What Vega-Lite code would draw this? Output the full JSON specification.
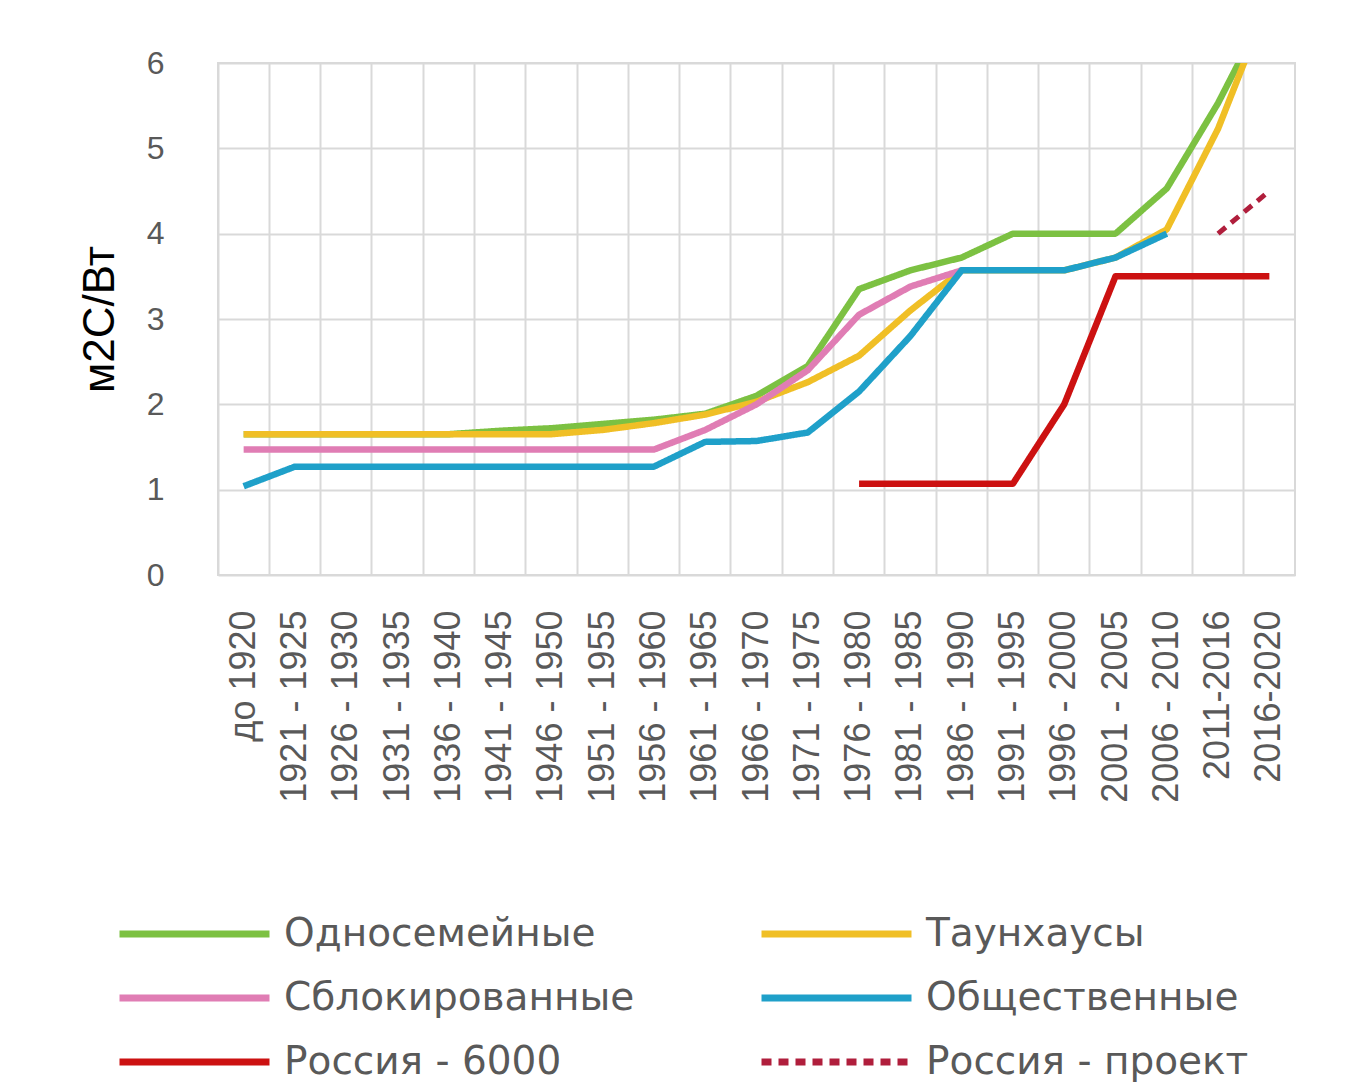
{
  "$schema": "https://vega.github.io/schema/vega-lite/v6.json",
  "autosize": "none",
  "width": 1077,
  "height": 512,
  "padding": {"left": 218, "top": 63, "right": 58, "bottom": 515},
  "background": "white",
  "config": {
    "view": {"stroke": "#d9d9d9", "strokeWidth": 2},
    "axis": {"gridColor": "#d9d9d9", "gridWidth": 2, "domain": false, "ticks": false, "labelColor": "#595959", "labelFont": "Liberation Sans"},
    "legend": {"symbolType": "M-1,0H3", "symbolSize": 5625, "symbolStrokeWidth": 7, "labelFont": "DejaVu Sans", "labelFontSize": 39, "labelColor": "#595959", "labelOffset": 86, "columnPadding": 112, "rowPadding": 3, "labelLimit": 600}
  },
  "data": {"values": [
    {"cat": "до 1920", "series": "Односемейные", "value": 1.65},
    {"cat": "1921 - 1925", "series": "Односемейные", "value": 1.65},
    {"cat": "1926 - 1930", "series": "Односемейные", "value": 1.65},
    {"cat": "1931 - 1935", "series": "Односемейные", "value": 1.65},
    {"cat": "1936 - 1940", "series": "Односемейные", "value": 1.65},
    {"cat": "1941 - 1945", "series": "Односемейные", "value": 1.69},
    {"cat": "1946 - 1950", "series": "Односемейные", "value": 1.72},
    {"cat": "1951 - 1955", "series": "Односемейные", "value": 1.77},
    {"cat": "1956 - 1960", "series": "Односемейные", "value": 1.82},
    {"cat": "1961 - 1965", "series": "Односемейные", "value": 1.89},
    {"cat": "1966 - 1970", "series": "Односемейные", "value": 2.1},
    {"cat": "1971 - 1975", "series": "Односемейные", "value": 2.45},
    {"cat": "1976 - 1980", "series": "Односемейные", "value": 3.35},
    {"cat": "1981 - 1985", "series": "Односемейные", "value": 3.57},
    {"cat": "1986 - 1990", "series": "Односемейные", "value": 3.72},
    {"cat": "1991 - 1995", "series": "Односемейные", "value": 4.0},
    {"cat": "1996 - 2000", "series": "Односемейные", "value": 4.0},
    {"cat": "2001 - 2005", "series": "Односемейные", "value": 4.0},
    {"cat": "2006 - 2010", "series": "Односемейные", "value": 4.53},
    {"cat": "2011-2016", "series": "Односемейные", "value": 5.53},
    {"cat": "2016-2020", "series": "Односемейные", "value": 6.7},

    {"cat": "до 1920", "series": "Таунхаусы", "value": 1.65},
    {"cat": "1921 - 1925", "series": "Таунхаусы", "value": 1.65},
    {"cat": "1926 - 1930", "series": "Таунхаусы", "value": 1.65},
    {"cat": "1931 - 1935", "series": "Таунхаусы", "value": 1.65},
    {"cat": "1936 - 1940", "series": "Таунхаусы", "value": 1.65},
    {"cat": "1941 - 1945", "series": "Таунхаусы", "value": 1.65},
    {"cat": "1946 - 1950", "series": "Таунхаусы", "value": 1.65},
    {"cat": "1951 - 1955", "series": "Таунхаусы", "value": 1.7},
    {"cat": "1956 - 1960", "series": "Таунхаусы", "value": 1.78},
    {"cat": "1961 - 1965", "series": "Таунхаусы", "value": 1.88},
    {"cat": "1966 - 1970", "series": "Таунхаусы", "value": 2.03},
    {"cat": "1971 - 1975", "series": "Таунхаусы", "value": 2.26},
    {"cat": "1976 - 1980", "series": "Таунхаусы", "value": 2.57},
    {"cat": "1981 - 1985", "series": "Таунхаусы", "value": 3.1},
    {"cat": "1986 - 1990", "series": "Таунхаусы", "value": 3.57},
    {"cat": "1991 - 1995", "series": "Таунхаусы", "value": 3.57},
    {"cat": "1996 - 2000", "series": "Таунхаусы", "value": 3.57},
    {"cat": "2001 - 2005", "series": "Таунхаусы", "value": 3.72},
    {"cat": "2006 - 2010", "series": "Таунхаусы", "value": 4.05},
    {"cat": "2011-2016", "series": "Таунхаусы", "value": 5.23},
    {"cat": "2016-2020", "series": "Таунхаусы", "value": 6.75},

    {"cat": "до 1920", "series": "Сблокированные", "value": 1.47},
    {"cat": "1921 - 1925", "series": "Сблокированные", "value": 1.47},
    {"cat": "1926 - 1930", "series": "Сблокированные", "value": 1.47},
    {"cat": "1931 - 1935", "series": "Сблокированные", "value": 1.47},
    {"cat": "1936 - 1940", "series": "Сблокированные", "value": 1.47},
    {"cat": "1941 - 1945", "series": "Сблокированные", "value": 1.47},
    {"cat": "1946 - 1950", "series": "Сблокированные", "value": 1.47},
    {"cat": "1951 - 1955", "series": "Сблокированные", "value": 1.47},
    {"cat": "1956 - 1960", "series": "Сблокированные", "value": 1.47},
    {"cat": "1961 - 1965", "series": "Сблокированные", "value": 1.7},
    {"cat": "1966 - 1970", "series": "Сблокированные", "value": 2.0},
    {"cat": "1971 - 1975", "series": "Сблокированные", "value": 2.4},
    {"cat": "1976 - 1980", "series": "Сблокированные", "value": 3.05},
    {"cat": "1981 - 1985", "series": "Сблокированные", "value": 3.38},
    {"cat": "1986 - 1990", "series": "Сблокированные", "value": 3.57},

    {"cat": "до 1920", "series": "Общественные", "value": 1.04},
    {"cat": "1921 - 1925", "series": "Общественные", "value": 1.27},
    {"cat": "1926 - 1930", "series": "Общественные", "value": 1.27},
    {"cat": "1931 - 1935", "series": "Общественные", "value": 1.27},
    {"cat": "1936 - 1940", "series": "Общественные", "value": 1.27},
    {"cat": "1941 - 1945", "series": "Общественные", "value": 1.27},
    {"cat": "1946 - 1950", "series": "Общественные", "value": 1.27},
    {"cat": "1951 - 1955", "series": "Общественные", "value": 1.27},
    {"cat": "1956 - 1960", "series": "Общественные", "value": 1.27},
    {"cat": "1961 - 1965", "series": "Общественные", "value": 1.56},
    {"cat": "1966 - 1970", "series": "Общественные", "value": 1.57},
    {"cat": "1971 - 1975", "series": "Общественные", "value": 1.67},
    {"cat": "1976 - 1980", "series": "Общественные", "value": 2.15},
    {"cat": "1981 - 1985", "series": "Общественные", "value": 2.8},
    {"cat": "1986 - 1990", "series": "Общественные", "value": 3.57},
    {"cat": "1991 - 1995", "series": "Общественные", "value": 3.57},
    {"cat": "1996 - 2000", "series": "Общественные", "value": 3.57},
    {"cat": "2001 - 2005", "series": "Общественные", "value": 3.72},
    {"cat": "2006 - 2010", "series": "Общественные", "value": 4.0},

    {"cat": "1976 - 1980", "series": "Россия - 6000", "value": 1.07},
    {"cat": "1981 - 1985", "series": "Россия - 6000", "value": 1.07},
    {"cat": "1986 - 1990", "series": "Россия - 6000", "value": 1.07},
    {"cat": "1991 - 1995", "series": "Россия - 6000", "value": 1.07},
    {"cat": "1996 - 2000", "series": "Россия - 6000", "value": 2.0},
    {"cat": "2001 - 2005", "series": "Россия - 6000", "value": 3.5},
    {"cat": "2006 - 2010", "series": "Россия - 6000", "value": 3.5},
    {"cat": "2011-2016", "series": "Россия - 6000", "value": 3.5},
    {"cat": "2016-2020", "series": "Россия - 6000", "value": 3.5},

    {"cat": "2011-2016", "series": "Россия - проект", "value": 4.0},
    {"cat": "2016-2020", "series": "Россия - проект", "value": 4.5}
  ]},
  "encoding": {
    "x": {
      "field": "cat", "type": "ordinal",
      "sort": ["до 1920","1921 - 1925","1926 - 1930","1931 - 1935","1936 - 1940","1941 - 1945","1946 - 1950","1951 - 1955","1956 - 1960","1961 - 1965","1966 - 1970","1971 - 1975","1976 - 1980","1981 - 1985","1986 - 1990","1991 - 1995","1996 - 2000","2001 - 2005","2006 - 2010","2011-2016","2016-2020"],
      "scale": {"type": "band", "paddingInner": 0, "paddingOuter": 0},
      "axis": {"title": null, "grid": true, "bandPosition": 0, "labelAngle": -90, "labelAlign": "right", "labelBaseline": "middle", "labelPadding": 35, "labelFontSize": 36, "labelLimit": 400}
    },
    "y": {
      "field": "value", "type": "quantitative",
      "scale": {"domain": [0, 6], "nice": false},
      "axis": {"title": "м2С/Вт", "values": [0,1,2,3,4,5,6], "labelFontSize": 32, "labelPadding": 54, "titleFontSize": 44, "titleFont": "Liberation Sans", "titleFontWeight": "normal", "titleColor": "#000000", "titlePadding": 24}
    },
    "color": {
      "field": "series", "type": "nominal",
      "scale": {"domain": ["Односемейные","Таунхаусы","Сблокированные","Общественные","Россия - 6000","Россия - проект"], "range": ["#7cc142","#f0bf26","#e07db4","#1fa0c9","#cc1111","#b01e3c"]},
      "legend": {"title": null, "orient": "none", "legendX": -102, "legendY": 830, "columns": 2, "direction": "horizontal"}
    },
    "strokeDash": {
      "field": "series", "type": "nominal",
      "scale": {"domain": ["Односемейные","Таунхаусы","Сблокированные","Общественные","Россия - 6000","Россия - проект"], "range": [[1,0],[1,0],[1,0],[1,0],[1,0],[10,7]]},
      "legend": {"title": null, "orient": "none", "legendX": -102, "legendY": 830, "columns": 2, "direction": "horizontal"}
    }
  },
  "layer": [
    {"transform": [{"filter": "datum.series === 'Односемейные'"}], "mark": {"type": "line", "strokeWidth": 6.5, "strokeJoin": "round", "clip": true}},
    {"transform": [{"filter": "datum.series === 'Таунхаусы'"}], "mark": {"type": "line", "strokeWidth": 6.5, "strokeJoin": "round", "clip": true}},
    {"transform": [{"filter": "datum.series === 'Сблокированные'"}], "mark": {"type": "line", "strokeWidth": 6.5, "strokeJoin": "round", "clip": true}},
    {"transform": [{"filter": "datum.series === 'Общественные'"}], "mark": {"type": "line", "strokeWidth": 6.5, "strokeJoin": "round", "clip": true}},
    {"transform": [{"filter": "datum.series === 'Россия - 6000'"}], "mark": {"type": "line", "strokeWidth": 6.5, "strokeJoin": "round", "clip": true}},
    {"transform": [{"filter": "datum.series === 'Россия - проект'"}], "mark": {"type": "line", "strokeWidth": 5, "clip": true}}
  ]
}
